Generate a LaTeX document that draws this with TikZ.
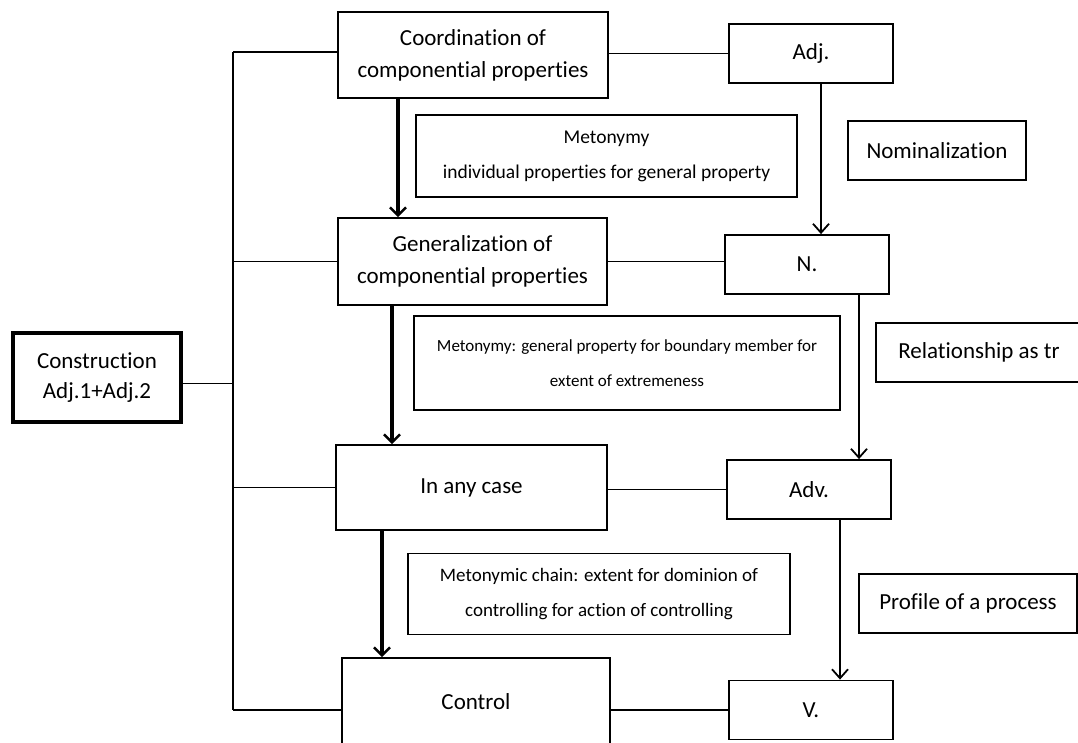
\documentclass[tikz,border=0pt]{standalone}
\usepackage{fontspec}
\setmainfont[Ligatures={NoCommon}]{Carlito}
\usetikzlibrary{arrows.meta}
\tikzset{bx/.style = {draw, line width=1.8pt, inner sep=0pt, align=center, font=\fontsize{23}{32}\selectfont},
    mt/.style = {bx, font=\fontsize{#1}{35}\selectfont},
    sm/.style = {bx, minimum width=164pt, minimum height=59pt},
    th/.style = {line width=4pt, -{Straight Barb[length=8pt,width=16pt,line width=2.5pt]}},
    ar/.style = {line width=1.8pt, -{Straight Barb[length=9pt,width=16pt]}},
    ln/.style = {line width=1.8pt}}

\begin{document}
\begin{tikzpicture}[x=1pt, y=-1pt]
        \clip (0,0) rectangle (1078,743);
        \node[bx, line width=4pt, minimum width=168pt, minimum height=89pt, font=\fontsize{23}{30}\selectfont] (cons) at (97,377.5) {Construction\\Adj.1+Adj.2};

        \node[bx, minimum width=270pt, minimum height=86pt] (coord) at (473,55) {Coordination of\\componential properties};
        \node[bx, minimum width=269pt, minimum height=87pt] (gen) at (472.5,261.5) {Generalization of\\componential properties};
        \node[bx, minimum width=271pt, minimum height=85pt] (anyc) at (471.5,487.5) {In any case};
        \node[bx, minimum width=268pt, minimum height=88pt] (ctrl) at (476,702) {Control};

        \node[mt=19.5, minimum width=381pt, minimum height=82pt] (met1) at (606.5,156) {Metonymy\\individual properties for general property};
        \node[mt=17, minimum width=426pt, minimum height=94pt] (met2) at (627,363) {Metonymy: general property for boundary member for\\extent of extremeness};
        \node[mt=19, minimum width=382pt, minimum height=81pt] (met3) at (599,594) {Metonymic chain: extent for dominion of\\controlling for action of controlling};

        \foreach \n/\t/\x/\y in {adj/Adj./811/53.5, n/N./807/264.5, adv/Adv./809/489.5, v/V./811/710}
            \node[sm] (\n) at (\x,\y) {\t};

        \node[bx, minimum width=178pt, minimum height=59pt] (nom) at (937,150.5) {Nominalization};
        \node[bx, minimum width=206pt, minimum height=59pt] (rel) at (979,352.5) {Relationship as tr};
        \node[bx, minimum width=218pt, minimum height=59pt] (prof) at (968,603.5) {Profile of a process};

        \coordinate (top) at (233,52);
        \coordinate (bot) at (233,710);
        \coordinate (c0) at ([yshift=-6pt]cons.east);

        \draw[ln] (top) -- (bot);
        \draw[ln] (c0) -- (c0 -| top);
        \draw[ln] (top) -- (top -| coord.west);
        \draw[ln] (gen.west -| top) -- (gen.west);
        \draw[ln] (anyc.west -| top) -- (anyc.west);
        \draw[ln] (bot) -- (bot -| ctrl.west);

        \draw[ln] (adj.west -| coord.east) -- (adj.west);
        \draw[ln] (gen.east) -- (gen.east -| n.west);
        \draw[ln] (adv.west -| anyc.east) -- (adv.west);
        \draw[ln] (v.west -| ctrl.east) -- (v.west);

        \draw[th] ([xshift=-75pt]coord.south) -- ([xshift=-75pt]coord.south |- gen.north);
        \draw[th] ([xshift=-80.5pt]gen.south) -- ([xshift=-80.5pt]gen.south |- anyc.north);
        \draw[th] ([xshift=-89.5pt]anyc.south) -- ([xshift=-89.5pt]anyc.south |- ctrl.north);

        \draw[ar] ([xshift=10pt]adj.south) -- ([xshift=10pt]adj.south |- n.north);
        \draw[ar] ([xshift=52pt]n.south) -- ([xshift=52pt]n.south |- adv.north);
        \draw[ar] ([xshift=31pt]adv.south) -- ([xshift=31pt]adv.south |- v.north);
    \end{tikzpicture}
\end{document}
